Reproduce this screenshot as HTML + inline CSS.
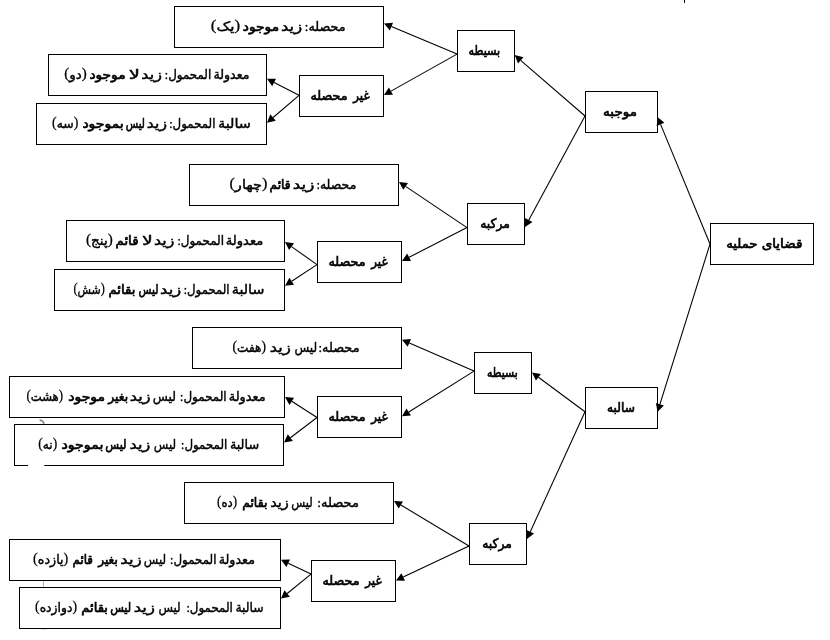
<!DOCTYPE html>
<html lang="fa" dir="ltr">
<head>
<meta charset="utf-8">
<title>قضایای حملیه</title>
<style>
html,body{margin:0;padding:0;background:#fff;overflow:hidden}
svg{display:block;filter:grayscale(1)}
text{font-family:"Liberation Serif", "DejaVu Sans", serif;font-weight:normal;font-size:13px;fill:#000;stroke:#000;stroke-width:0.42;direction:rtl;unicode-bidi:embed;text-anchor:middle}
.s{stroke-width:0.68}
.p{font-family:"Liberation Serif",serif;font-size:14.5px;stroke-width:0.25;baseline-shift:1.2px}
.b{fill:#fff;stroke:#000;stroke-width:1;shape-rendering:crispEdges}
.l{stroke:#000;stroke-width:1.08;fill:none}
.h{fill:#000;stroke:none}
</style>
</head>
<body>
<svg width="830" height="640" viewBox="0 0 830 640">
<rect x="0" y="0" width="830" height="640" fill="#fff"/>
<g id="boxes">
<rect class="b" x="710.5" y="223.5" width="103" height="41"/>
<rect class="b" x="585.5" y="91.5" width="72" height="41"/>
<rect class="b" x="585.5" y="387.5" width="72" height="41"/>
<rect class="b" x="457.5" y="30.5" width="57" height="41"/>
<rect class="b" x="467.5" y="203.5" width="57" height="41"/>
<rect class="b" x="474.5" y="352.5" width="57" height="41"/>
<rect class="b" x="469.5" y="523.5" width="57" height="41"/>
<rect class="b" x="299.5" y="75.5" width="84" height="41"/>
<rect class="b" x="317.5" y="241.5" width="84" height="41"/>
<rect class="b" x="317.5" y="396.5" width="84" height="41"/>
<rect class="b" x="311.5" y="560.5" width="84" height="41"/>
<rect class="b" x="174.5" y="6.5" width="209" height="41"/>
<rect class="b" x="48.5" y="54.5" width="218" height="41"/>
<rect class="b" x="36.5" y="103.5" width="230" height="41"/>
<rect class="b" x="189.5" y="164.5" width="209" height="41"/>
<rect class="b" x="66.5" y="220.5" width="218" height="41"/>
<rect class="b" x="54.5" y="269.5" width="230" height="41"/>
<rect class="b" x="192.5" y="327.5" width="209" height="41"/>
<rect class="b" x="9.5" y="376.5" width="275" height="41"/>
<rect class="b" x="14.5" y="424.5" width="269" height="41"/>
<rect class="b" x="184.5" y="482.5" width="209" height="41"/>
<rect class="b" x="9.5" y="539.5" width="271" height="41"/>
<rect class="b" x="19.5" y="587.5" width="261" height="41"/>
</g>
<g id="lines">
<line class="l" x1="710.0" y1="244.0" x2="660.6" y2="124.4"/><polygon class="h" points="657.5,117.0 664.4,122.8 656.7,126.0"/>
<line class="l" x1="710.0" y1="244.0" x2="659.9" y2="404.4"/><polygon class="h" points="657.5,412.0 655.9,403.1 663.9,405.6"/>
<line class="l" x1="585.0" y1="116.0" x2="520.7" y2="60.3"/><polygon class="h" points="514.7,55.1 523.5,57.2 518.0,63.5"/>
<line class="l" x1="585.0" y1="116.0" x2="528.8" y2="220.0"/><polygon class="h" points="525.0,227.0 525.1,218.0 532.5,222.0"/>
<line class="l" x1="585.0" y1="411.7" x2="538.4" y2="377.3"/><polygon class="h" points="532.0,372.5 540.9,373.9 535.9,380.6"/>
<line class="l" x1="585.0" y1="411.7" x2="530.3" y2="531.7"/><polygon class="h" points="527.0,539.0 526.5,530.0 534.1,533.5"/>
<line class="l" x1="457.0" y1="54.1" x2="391.4" y2="26.6"/><polygon class="h" points="384.0,23.5 393.0,22.7 389.8,30.5"/>
<line class="l" x1="457.0" y1="54.1" x2="391.0" y2="91.1"/><polygon class="h" points="384.0,95.0 388.9,87.4 393.0,94.8"/>
<line class="l" x1="467.0" y1="227.6" x2="405.6" y2="186.4"/><polygon class="h" points="399.0,181.9 408.0,182.9 403.3,189.8"/>
<line class="l" x1="467.0" y1="227.6" x2="409.1" y2="257.3"/><polygon class="h" points="402.0,260.9 407.2,253.5 411.0,261.0"/>
<line class="l" x1="474.0" y1="371.1" x2="409.3" y2="343.0"/><polygon class="h" points="402.0,339.8 411.0,339.1 407.7,346.8"/>
<line class="l" x1="474.0" y1="371.1" x2="408.8" y2="412.0"/><polygon class="h" points="402.0,416.3 406.5,408.5 411.0,415.6"/>
<line class="l" x1="469.0" y1="546.0" x2="400.9" y2="505.0"/><polygon class="h" points="394.0,500.9 403.0,501.4 398.7,508.6"/>
<line class="l" x1="469.0" y1="546.0" x2="403.2" y2="577.0"/><polygon class="h" points="396.0,580.4 401.4,573.2 405.0,580.8"/>
<line class="l" x1="299.0" y1="95.3" x2="274.1" y2="82.5"/><polygon class="h" points="267.0,78.8 276.0,78.7 272.2,86.2"/>
<line class="l" x1="299.0" y1="95.3" x2="273.1" y2="117.5"/><polygon class="h" points="267.0,122.7 270.3,114.3 275.8,120.7"/>
<line class="l" x1="317.0" y1="264.6" x2="291.5" y2="246.6"/><polygon class="h" points="285.0,242.0 294.0,243.2 289.1,250.0"/>
<line class="l" x1="317.0" y1="264.6" x2="291.7" y2="281.3"/><polygon class="h" points="285.0,285.7 289.4,277.8 294.0,284.8"/>
<line class="l" x1="317.0" y1="417.5" x2="291.7" y2="401.3"/><polygon class="h" points="285.0,397.0 294.0,397.8 289.5,404.9"/>
<line class="l" x1="317.0" y1="417.5" x2="290.4" y2="437.7"/><polygon class="h" points="284.0,442.5 287.8,434.3 292.9,441.0"/>
<line class="l" x1="311.0" y1="574.1" x2="288.2" y2="563.2"/><polygon class="h" points="281.0,559.8 290.0,559.5 286.4,567.0"/>
<line class="l" x1="311.0" y1="574.1" x2="287.2" y2="593.5"/><polygon class="h" points="281.0,598.6 284.5,590.3 289.9,596.8"/>
</g>
<g id="marks">
<rect x="684" y="0" width="1" height="3" fill="#000" shape-rendering="crispEdges"/>
<rect x="28" y="464.5" width="16.3" height="2" fill="#fff"/>
<path d="M39.6 419.8 Q43.2 420.6 44.2 423.8" fill="none" stroke="#777" stroke-width="1.3"/>
<rect x="43" y="581" width="1" height="6" fill="#b4b4b4" shape-rendering="crispEdges"/>
<rect x="41" y="629" width="6" height="1" fill="#e2e2e2" shape-rendering="crispEdges"/>
</g>
<g id="labels">
<g><text class="s" x="782.00" y="247.5" textLength="40.70" lengthAdjust="spacingAndGlyphs">قضایای</text> <text class="s" x="741.90" y="247.5" textLength="31.30" lengthAdjust="spacingAndGlyphs">حملیه</text></g>
<g><text class="s" x="620.03" y="115.5" textLength="33.85" lengthAdjust="spacingAndGlyphs">موجبه</text></g>
<g><text class="s" x="620.97" y="411.5" textLength="27.85" lengthAdjust="spacingAndGlyphs">سالبه</text></g>
<g><text class="s" x="484.30" y="54.5" textLength="31.70" lengthAdjust="spacingAndGlyphs">بسیطه</text></g>
<g><text class="s" x="495.07" y="227.5" textLength="29.65" lengthAdjust="spacingAndGlyphs">مرکبه</text></g>
<g><text class="s" x="502.37" y="376.5" textLength="30.75" lengthAdjust="spacingAndGlyphs">بسیطه</text></g>
<g><text class="s" x="497.07" y="547.5" textLength="29.65" lengthAdjust="spacingAndGlyphs">مرکبه</text></g>
<g><text class="s" x="361.43" y="99.5" textLength="16.35" lengthAdjust="spacingAndGlyphs">غیر</text> <text class="s" x="329.00" y="99.5" textLength="37.10" lengthAdjust="spacingAndGlyphs">محصله</text></g>
<g><text class="s" x="379.43" y="265.5" textLength="16.35" lengthAdjust="spacingAndGlyphs">غیر</text> <text class="s" x="347.00" y="265.5" textLength="37.10" lengthAdjust="spacingAndGlyphs">محصله</text></g>
<g><text class="s" x="379.43" y="420.5" textLength="16.35" lengthAdjust="spacingAndGlyphs">غیر</text> <text class="s" x="347.00" y="420.5" textLength="37.10" lengthAdjust="spacingAndGlyphs">محصله</text></g>
<g><text class="s" x="373.43" y="584.5" textLength="16.35" lengthAdjust="spacingAndGlyphs">غیر</text> <text class="s" x="341.00" y="584.5" textLength="37.10" lengthAdjust="spacingAndGlyphs">محصله</text></g>
<g><text x="325.20" y="30.5" textLength="40.70" lengthAdjust="spacingAndGlyphs">محصله:</text> <text x="291.52" y="30.5" textLength="21.25" lengthAdjust="spacingAndGlyphs">زید</text> <text class="s" x="260.97" y="30.5" textLength="36.25" lengthAdjust="spacingAndGlyphs">موجود</text> <text x="225.50" y="30.5" textLength="29.30" lengthAdjust="spacingAndGlyphs"><tspan class="p">(</tspan>یک<tspan class="p">)</tspan></text></g>
<g><text x="231.50" y="78.5" textLength="36.10" lengthAdjust="spacingAndGlyphs">معدولة</text> <text x="188.08" y="78.5" textLength="46.45" lengthAdjust="spacingAndGlyphs">المحمول:</text> <text x="151.62" y="78.5" textLength="20.65" lengthAdjust="spacingAndGlyphs">زید</text> <text x="134.45" y="78.5" textLength="11.20" lengthAdjust="spacingAndGlyphs">لا</text> <text class="s" x="107.45" y="78.5" textLength="36.10" lengthAdjust="spacingAndGlyphs">موجود</text> <text x="75.47" y="78.5" textLength="22.55" lengthAdjust="spacingAndGlyphs"><tspan class="p">(</tspan>دو<tspan class="p">)</tspan></text></g>
<g><text x="234.43" y="127.5" textLength="33.05" lengthAdjust="spacingAndGlyphs">سالبة</text> <text x="192.42" y="127.5" textLength="46.25" lengthAdjust="spacingAndGlyphs">المحمول:</text> <text x="156.90" y="127.5" textLength="20.10" lengthAdjust="spacingAndGlyphs">زید</text> <text class="s" x="135.35" y="127.5" textLength="19.10" lengthAdjust="spacingAndGlyphs">لیس</text> <text class="s" x="103.05" y="127.5" textLength="41.30" lengthAdjust="spacingAndGlyphs">بموجود</text> <text x="65.23" y="127.5" textLength="26.35" lengthAdjust="spacingAndGlyphs"><tspan class="p">(</tspan>سه<tspan class="p">)</tspan></text></g>
<g><text x="336.40" y="188.5" textLength="39.90" lengthAdjust="spacingAndGlyphs">محصله:</text> <text x="303.60" y="188.5" textLength="21.80" lengthAdjust="spacingAndGlyphs">زید</text> <text class="s" x="280.08" y="188.5" textLength="20.95" lengthAdjust="spacingAndGlyphs">قائم</text> <text x="248.48" y="188.5" textLength="38.05" lengthAdjust="spacingAndGlyphs"><tspan class="p">(</tspan>چهار<tspan class="p">)</tspan></text></g>
<g><text x="244.50" y="244.5" textLength="37.60" lengthAdjust="spacingAndGlyphs">معدولة</text> <text x="200.77" y="244.5" textLength="46.65" lengthAdjust="spacingAndGlyphs">المحمول:</text> <text x="164.13" y="244.5" textLength="20.45" lengthAdjust="spacingAndGlyphs">زید</text> <text x="147.45" y="244.5" textLength="10.80" lengthAdjust="spacingAndGlyphs">لا</text> <text class="s" x="127.05" y="244.5" textLength="22.90" lengthAdjust="spacingAndGlyphs">قائم</text> <text x="99.38" y="244.5" textLength="26.75" lengthAdjust="spacingAndGlyphs"><tspan class="p">(</tspan>پنج<tspan class="p">)</tspan></text></g>
<g><text x="248.10" y="293.5" textLength="32.50" lengthAdjust="spacingAndGlyphs">سالبة</text> <text x="206.70" y="293.5" textLength="45.70" lengthAdjust="spacingAndGlyphs">المحمول:</text> <text x="170.70" y="293.5" textLength="21.20" lengthAdjust="spacingAndGlyphs">زید</text> <text class="s" x="148.55" y="293.5" textLength="19.90" lengthAdjust="spacingAndGlyphs">لیس</text> <text class="s" x="121.90" y="293.5" textLength="26.90" lengthAdjust="spacingAndGlyphs">بقائم</text> <text x="89.18" y="293.5" textLength="31.55" lengthAdjust="spacingAndGlyphs"><tspan class="p">(</tspan>شش<tspan class="p">)</tspan></text></g>
<g><text x="339.00" y="351.5" textLength="41.10" lengthAdjust="spacingAndGlyphs">محصله:</text> <text x="305.75" y="351.5" textLength="22.70" lengthAdjust="spacingAndGlyphs">لیس</text> <text x="280.30" y="351.5" textLength="20.90" lengthAdjust="spacingAndGlyphs">زید</text> <text x="249.30" y="351.5" textLength="33.40" lengthAdjust="spacingAndGlyphs"><tspan class="p">(</tspan>هفت<tspan class="p">)</tspan></text></g>
<g><text x="247.23" y="400.5" textLength="37.05" lengthAdjust="spacingAndGlyphs">معدولة</text> <text x="203.40" y="400.5" textLength="46.60" lengthAdjust="spacingAndGlyphs">المحمول:</text> <text x="164.47" y="400.5" textLength="23.25" lengthAdjust="spacingAndGlyphs">لیس</text> <text x="140.07" y="400.5" textLength="20.85" lengthAdjust="spacingAndGlyphs">زید</text> <text class="s" x="118.20" y="400.5" textLength="19.80" lengthAdjust="spacingAndGlyphs">بغیر</text> <text class="s" x="86.68" y="400.5" textLength="36.85" lengthAdjust="spacingAndGlyphs">موجود</text> <text x="44.70" y="400.5" textLength="36.60" lengthAdjust="spacingAndGlyphs"><tspan class="p">(</tspan>هشت<tspan class="p">)</tspan></text></g>
<g><text x="244.50" y="448.5" textLength="29.20" lengthAdjust="spacingAndGlyphs">سالبة</text> <text x="204.23" y="448.5" textLength="46.25" lengthAdjust="spacingAndGlyphs">المحمول:</text> <text x="164.98" y="448.5" textLength="22.35" lengthAdjust="spacingAndGlyphs">لیس</text> <text x="139.90" y="448.5" textLength="20.90" lengthAdjust="spacingAndGlyphs">زید</text> <text class="s" x="115.88" y="448.5" textLength="21.25" lengthAdjust="spacingAndGlyphs">لیس</text> <text class="s" x="82.40" y="448.5" textLength="41.90" lengthAdjust="spacingAndGlyphs">بموجود</text> <text x="47.70" y="448.5" textLength="18.90" lengthAdjust="spacingAndGlyphs"><tspan class="p">(</tspan>نه<tspan class="p">)</tspan></text></g>
<g><text x="338.12" y="506.5" textLength="41.65" lengthAdjust="spacingAndGlyphs">محصله:</text> <text x="301.98" y="506.5" textLength="21.45" lengthAdjust="spacingAndGlyphs">لیس</text> <text x="279.55" y="506.5" textLength="18.70" lengthAdjust="spacingAndGlyphs">زید</text> <text class="s" x="254.77" y="506.5" textLength="25.15" lengthAdjust="spacingAndGlyphs">بقائم</text> <text x="227.10" y="506.5" textLength="20.10" lengthAdjust="spacingAndGlyphs"><tspan class="p">(</tspan>ده<tspan class="p">)</tspan></text></g>
<g><text x="236.82" y="563.5" textLength="36.25" lengthAdjust="spacingAndGlyphs">معدولة</text> <text x="193.32" y="563.5" textLength="46.45" lengthAdjust="spacingAndGlyphs">المحمول:</text> <text x="154.95" y="563.5" textLength="22.30" lengthAdjust="spacingAndGlyphs">لیس</text> <text x="131.00" y="563.5" textLength="21.40" lengthAdjust="spacingAndGlyphs">زید</text> <text class="s" x="108.00" y="563.5" textLength="19.50" lengthAdjust="spacingAndGlyphs">بغیر</text> <text class="s" x="82.80" y="563.5" textLength="20.40" lengthAdjust="spacingAndGlyphs">قائم</text> <text x="50.70" y="563.5" textLength="35.30" lengthAdjust="spacingAndGlyphs"><tspan class="p">(</tspan>یازده<tspan class="p">)</tspan></text></g>
<g><text x="249.60" y="611.5" textLength="28.30" lengthAdjust="spacingAndGlyphs">سالبة</text> <text x="209.68" y="611.5" textLength="46.45" lengthAdjust="spacingAndGlyphs">المحمول:</text> <text x="169.58" y="611.5" textLength="22.35" lengthAdjust="spacingAndGlyphs">لیس</text> <text x="144.30" y="611.5" textLength="21.30" lengthAdjust="spacingAndGlyphs">زید</text> <text class="s" x="120.65" y="611.5" textLength="20.90" lengthAdjust="spacingAndGlyphs">لیس</text> <text class="s" x="94.60" y="611.5" textLength="26.70" lengthAdjust="spacingAndGlyphs">بقائم</text> <text x="56.02" y="611.5" textLength="41.95" lengthAdjust="spacingAndGlyphs"><tspan class="p">(</tspan>دوازده<tspan class="p">)</tspan></text></g>
</g>
</svg>
</body>
</html>
